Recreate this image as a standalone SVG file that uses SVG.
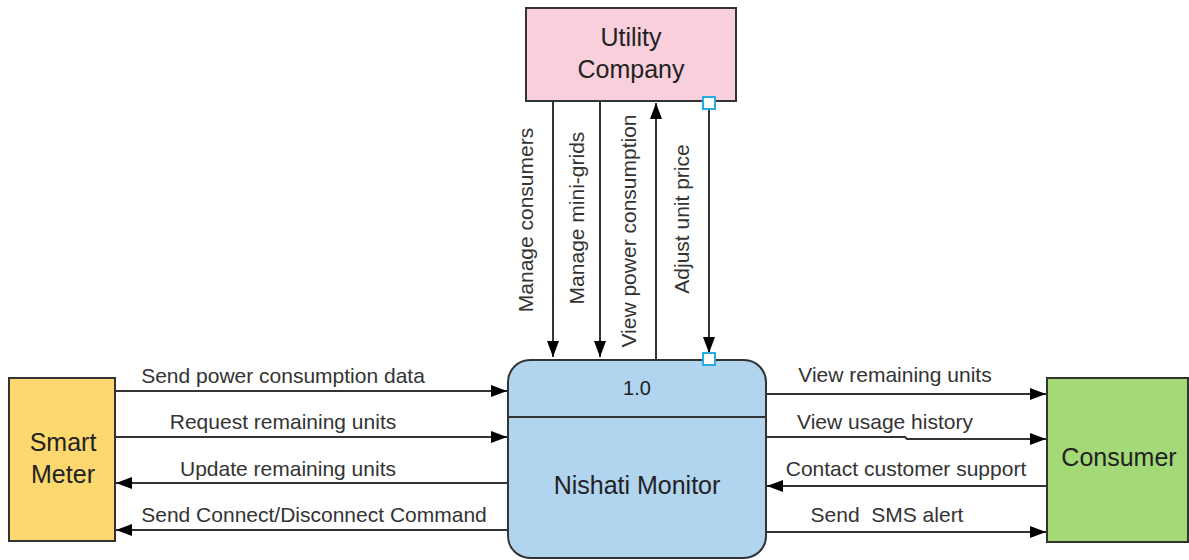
<svg xmlns="http://www.w3.org/2000/svg" width="1189" height="560" viewBox="0 0 1189 560">
<style>
.lbl{font-family:"Liberation Sans",Arial,sans-serif;font-size:21px;fill:#333}
.title{font-family:"Liberation Sans",Arial,sans-serif;font-size:25px;fill:#222;text-anchor:middle}
.ln{stroke:#333;stroke-width:2;fill:none}
.box{stroke:#333;stroke-width:2}
.hnd{fill:#fff;stroke:#29aae2;stroke-width:2}
</style>
<defs>
<marker id="ah" viewBox="0 0 16 12" refX="16" refY="6" markerWidth="16" markerHeight="12" markerUnits="userSpaceOnUse" orient="auto">
<path d="M0,0 L16,6 L0,12 Z" fill="#000"/>
</marker>
</defs>
<rect width="1189" height="560" fill="#fff"/>
<g id="connectors">
<line class="ln" x1="115" y1="391" x2="507" y2="391" marker-end="url(#ah)"/>
<line class="ln" x1="115" y1="437" x2="507" y2="437" marker-end="url(#ah)"/>
<line class="ln" x1="508" y1="483" x2="116" y2="483" marker-end="url(#ah)"/>
<line class="ln" x1="508" y1="530" x2="116" y2="530" marker-end="url(#ah)"/>
<line class="ln" x1="766" y1="394" x2="1046" y2="394" marker-end="url(#ah)"/>
<path class="ln" d="M766,437 L905,437 L907,439 L1046,439" marker-end="url(#ah)"/>
<line class="ln" x1="1047" y1="486" x2="767" y2="486" marker-end="url(#ah)"/>
<line class="ln" x1="766" y1="532" x2="1046" y2="532" marker-end="url(#ah)"/>
<line class="ln" x1="553" y1="101" x2="553" y2="357" marker-end="url(#ah)"/>
<line class="ln" x1="600" y1="101" x2="600" y2="357" marker-end="url(#ah)"/>
<line class="ln" x1="656" y1="360" x2="656" y2="103" marker-end="url(#ah)"/>
<line class="ln" x1="709" y1="109" x2="709" y2="353" marker-end="url(#ah)"/>
<g class="lbl">
<text x="283" y="383" text-anchor="middle">Send power consumption data</text>
<text x="283" y="429" text-anchor="middle">Request remaining units</text>
<text x="288" y="476" text-anchor="middle">Update remaining units</text>
<text x="314" y="522" text-anchor="middle">Send Connect/Disconnect Command</text>
<text x="895" y="382" text-anchor="middle">View remaining units</text>
<text x="885" y="429" text-anchor="middle">View usage history</text>
<text x="906" y="476" text-anchor="middle">Contact customer support</text>
<text x="887" y="522" text-anchor="middle" xml:space="preserve" style="white-space:pre">Send  SMS alert</text>
<text transform="translate(533,220) rotate(-90)" text-anchor="middle">Manage consumers</text>
<text transform="translate(584,218) rotate(-90)" text-anchor="middle">Manage mini-grids</text>
<text transform="translate(636,231) rotate(-90)" text-anchor="middle">View power consumption</text>
<text transform="translate(689,219) rotate(-90)" text-anchor="middle">Adjust unit price</text>
</g>
</g>
<g id="utility">
<rect class="box" x="526" y="8" width="210" height="93" fill="#f8cfdb"/>
<text class="title" x="631" y="46">Utility</text>
<text class="title" x="631" y="78">Company</text>
<rect class="hnd" x="703" y="97" width="12" height="12"/>
</g>
<g id="process">
<rect class="box" x="508" y="360" width="258" height="198" rx="22" fill="#b1d4ef"/>
<line class="ln" x1="508" y1="417" x2="766" y2="417"/>
<text class="title" x="637" y="395" style="font-size:20px">1.0</text>
<text class="title" x="637" y="494">Nishati Monitor</text>
<rect class="hnd" x="703" y="353" width="12" height="12"/>
</g>
<g id="smartmeter">
<rect class="box" x="9" y="378" width="106" height="163" fill="#fdd86e"/>
<text class="title" x="63" y="451">Smart</text>
<text class="title" x="63" y="483">Meter</text>
</g>
<g id="consumer">
<rect class="box" x="1047" y="378" width="141" height="164" fill="#a4d977"/>
<text class="title" x="1119" y="466">Consumer</text>
</g>
</svg>
